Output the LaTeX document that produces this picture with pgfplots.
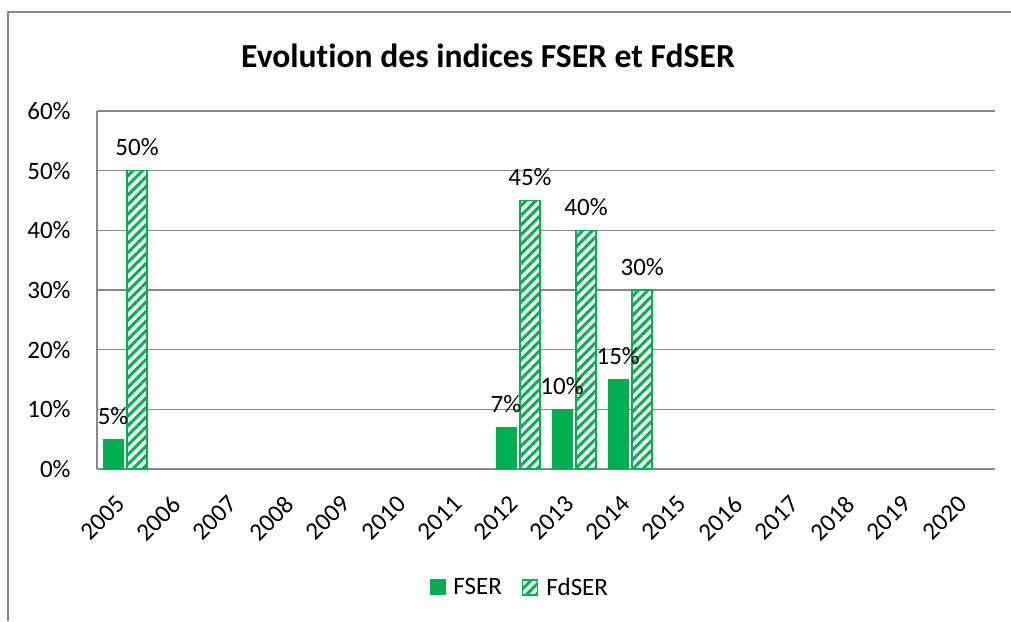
\documentclass[border=0pt]{standalone}
\usepackage{fontspec}
\setmainfont{Carlito}[Ligatures=NoCommon]
\usepackage{pgfplots}
\pgfplotsset{compat=1.18}
\usetikzlibrary{patterns.meta}
\definecolor{xlgreen}{HTML}{00B050}
\definecolor{gridgray}{HTML}{878787}

\begin{document}
\begin{tikzpicture}
\begin{axis}[
    scale only axis, width=449pt, height=179pt,
    at={(0pt,0pt)}, anchor=south west,
    xmin=-0.5, xmax=15.5, ymin=0, ymax=60,
    xtick={0,...,15},
    xticklabels={2005,2006,2007,2008,2009,2010,2011,2012,2013,2014,2015,2016,2017,2018,2019,2020},
    ytick={0,10,...,60},
    yticklabel={\pgfmathprintnumber{\tick}\%},
    ymajorgrids, grid style={gridgray, line width=0.75pt},
    axis x line*=bottom, axis y line*=left,
    axis line style={gridgray, line width=0.75pt, -},
    major tick length=0pt,
    /pgf/number format/assume math mode=true,
    tick label style={font=\fontsize{12.5}{15}\selectfont, text=black},
    yticklabel style={anchor=east, inner sep=0pt, xshift=-13pt},
    xticklabel style={inner sep=0pt, anchor=east, xshift=-2pt, yshift=-15.5pt, rotate=45},
    ybar=2pt, bar width=10pt,
    nodes near coords={\pgfmathprintnumber{\pgfplotspointmeta}\%},
    nodes near coords style={font=\fontsize{12.5}{15}\selectfont, anchor=base, yshift=7.5pt, inner sep=0pt, text=black},
    legend columns=2,
    legend style={at={(axis description cs:0.472,-0.332)}, anchor=center, draw=none,
      font=\fontsize{12.5}{15}\selectfont,
      /tikz/every odd column/.style={column sep=2pt},
      /tikz/every even column/.style={column sep=8pt}},
    legend image code/.code={\draw[#1] (0pt,-3.5pt) rectangle (7.5pt,4pt);},
  ]
  % FSER
  \addplot[fill=xlgreen, draw=xlgreen] coordinates {
    (0,5) (7,7) (8,10) (9,15)
  };
  \addlegendentry{FSER}
  % FdSER
  \addplot[draw=xlgreen, line width=0.75pt, fill=white,
    postaction={pattern={Lines[angle=45,distance=3.4pt,line width=1.5pt]}, pattern color=xlgreen}] coordinates {
    (0,50) (7,45) (8,40) (9,30)
  };
  \addlegendentry{FdSER}
\end{axis}
\node[anchor=base, font=\fontsize{16.8}{20}\selectfont\bfseries] at (195.5pt,200.5pt) {Evolution des indices FSER et FdSER};
\draw[gridgray, line width=0.75pt] (-44.5pt,-76pt) -- (-44.5pt,228.5pt) -- (457pt,228.5pt);
\pgfresetboundingbox
\path[use as bounding box] (-48.5pt,-76pt) rectangle (457pt,234.5pt);
\end{tikzpicture}
\end{document}
